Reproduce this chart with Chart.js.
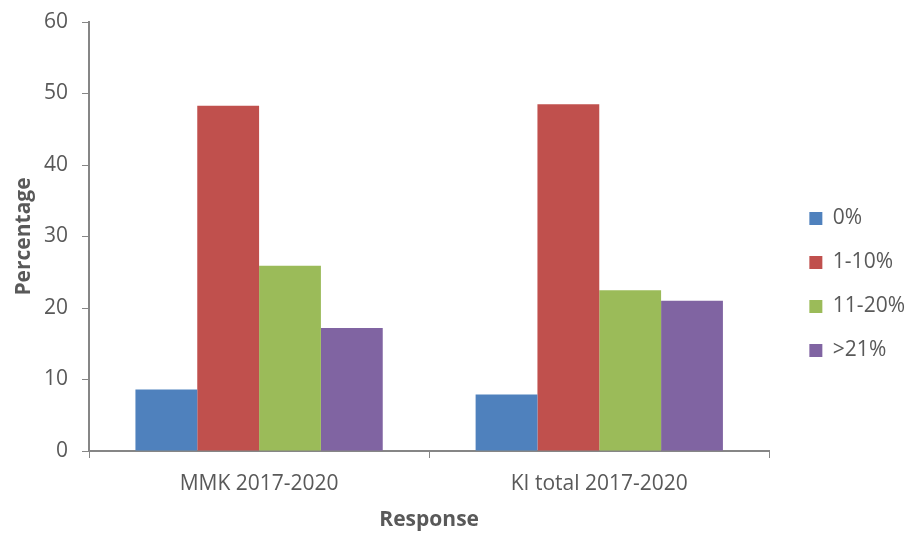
<!DOCTYPE html>
<html>
<head>
<meta charset="utf-8">
<script src="https://cdn.jsdelivr.net/npm/chart.js@4.4.1/dist/chart.umd.min.js"></script>
<style>
  html, body { margin: 0; padding: 0; background: #ffffff; }
  #wrap { width: 905px; height: 533px; }
</style>
</head>
<body>
<div id="wrap"><canvas id="chart" width="905" height="533"></canvas></div>
<script>
// response groups and share of respondents in each band
const groups = ["MMK 2017-2020", "KI total 2017-2020"];
const bands = ["0%", "1-10%", "11-20%", ">21%"];
const zeroPct = [8.6, 7.9];
const oneToTen = [48.3, 48.5];
const elevenToTwenty = [25.9, 22.5];
const overTwentyOne = [17.2, 21.0];
const yTicks = [0, 10, 20, 30, 40, 50, 60];

const bandColors = ["#4F81BD", "#C0504D", "#9BBB59", "#8064A2"];
const textColor = "#595959";
const axisColor = "#868686";
const font = "'Open Sans', 'DejaVu Sans', sans-serif";

const seriesValues = [zeroPct, oneToTen, elevenToTwenty, overTwentyOne];

// nudge the legend block a bit away from the plot
const legendShift = {
  id: "legendShift",
  afterLayout(chart) {
    const lg = chart.legend;
    lg.left += 17; lg.right += 17;
    lg.top += 7; lg.bottom += 7;
  }
};

const ctx = document.getElementById("chart");
let myChart = new Chart(ctx, {
  type: "bar",
  plugins: [legendShift],
  data: {
    labels: groups,
    datasets: bands.map((b, i) => ({
      label: b,
      data: seriesValues[i],
      backgroundColor: bandColors[i],
      borderWidth: 0,
      barPercentage: 1,
      categoryPercentage: 0.727
    }))
  },
  options: {
    responsive: false,
    animation: false,
    layout: { padding: { top: 22, right: 7, bottom: 0, left: 0 } },
    plugins: {
      tooltip: { enabled: false },
      legend: {
        position: "right",
        align: "center",
        labels: {
          boxWidth: 13,
          boxHeight: 13,
          padding: 23,
          color: textColor,
          font: { family: font, size: 21 }
        }
      }
    },
    scales: {
      x: {
        grid: {
          display: true,
          drawOnChartArea: false,
          drawTicks: true,
          tickLength: 7,
          color: axisColor,
          offset: true
        },
        border: { display: true, color: axisColor, width: 2 },
        ticks: { color: textColor, padding: 13, font: { family: font, size: 21 } },
        title: {
          display: true,
          text: "Response",
          color: textColor,
          padding: { top: 0, bottom: 0 },
          font: { family: font, size: 21, weight: "bold" }
        },
        afterFit: (scale) => { scale.height = 82; }
      },
      y: {
        min: 0,
        max: 60,
        afterBuildTicks: (scale) => { scale.ticks = yTicks.map(v => ({ value: v })); },
        grid: {
          display: true,
          drawOnChartArea: false,
          drawTicks: true,
          tickLength: 7,
          color: axisColor
        },
        border: { display: true, color: axisColor, width: 2 },
        ticks: { color: textColor, padding: 14, font: { family: font, size: 21 } },
        title: {
          display: true,
          text: "Percentage",
          color: textColor,
          padding: { top: 11, bottom: 0 },
          font: { family: font, size: 21, weight: "bold" }
        },
        afterFit: (scale) => {
          scale.width = 89;
          scale.paddingTop = 0;
          scale.paddingBottom = 0;
        }
      }
    }
  }
});
</script>
</body>
</html>
